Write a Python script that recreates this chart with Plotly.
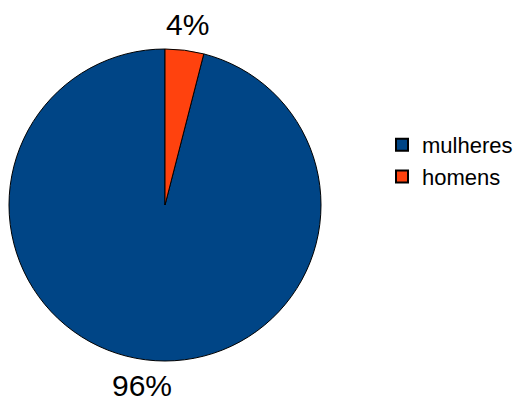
import math
import plotly.graph_objects as go

labels = ["mulheres", "homens"]
values = [96, 4]
colors = ["#004586", "#FF420E"]

W, H = 518, 403
cx, cy, r = 165, 205, 156

total = sum(values)
# mulheres starts after the homens slice (clockwise from 12 o'clock)
rot = 360 * values[1] / total

fig = go.Figure(go.Pie(
    labels=labels, values=values, sort=False, direction="clockwise",
    rotation=rot, marker=dict(colors=colors, line=dict(color="black", width=1)),
    textinfo="none", hoverinfo="label+percent",
    domain=dict(x=[(cx - r) / W, (cx + r) / W], y=[1 - (cy + r) / H, 1 - (cy - r) / H]),
))

start = 0.0
ann = []
for lab, v in zip(labels, values):
    frac = v / total
    mid = start + frac / 2
    ang = -2 * math.pi * mid
    R = 182
    x = cx + R * math.sin(ang)
    y = cy - R * math.cos(ang)
    ann.append(dict(x=x / W, y=1 - y / H, xref="paper", yref="paper",
                    text=f"{round(frac*100)}%", showarrow=False,
                    font=dict(size=30, color="black", family="Liberation Sans, Arial"),
                    xanchor="center", yanchor="middle"))
    start += frac

fig.update_layout(
    width=W, height=H, margin=dict(l=0, r=0, t=0, b=0),
    paper_bgcolor="white", plot_bgcolor="white",
    font=dict(family="Liberation Sans, Arial", color="black"),
    annotations=ann,
    legend=dict(x=1, y=1 - 124 / H, xanchor="right", yanchor="top",
                font=dict(size=22, color="black"), itemsizing="constant",
                tracegroupgap=0),
    showlegend=True,
)
fig.write_html("out.html")
